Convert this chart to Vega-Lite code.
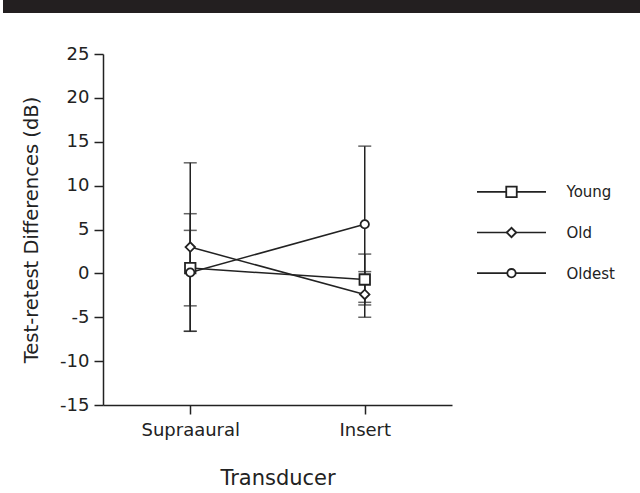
{
  "$schema": "https://vega.github.io/schema/vega-lite/v6.json",
  "padding": 0,
  "background": "white",
  "spacing": 32,
  "config": {
    "view": {"stroke": null},
    "font": "DejaVu Sans",
    "axis": {
      "grid": false,
      "domainColor": "#222",
      "tickColor": "#222",
      "labelColor": "#222",
      "titleColor": "#222",
      "domainWidth": 1.5,
      "tickWidth": 1.5,
      "titleFontWeight": "normal"
    }
  },
  "datasets": {
    "stats": [
      {"group": "Young", "transducer": "Supraaural", "mean": 0.6, "lo": -3.7, "hi": 4.9},
      {"group": "Young", "transducer": "Insert", "mean": -0.7, "lo": -3.6, "hi": 2.2},
      {"group": "Old", "transducer": "Supraaural", "mean": 3.0, "lo": -6.6, "hi": 12.6},
      {"group": "Old", "transducer": "Insert", "mean": -2.4, "lo": -5.0, "hi": 0.2},
      {"group": "Oldest", "transducer": "Supraaural", "mean": 0.1, "lo": -6.6, "hi": 6.8},
      {"group": "Oldest", "transducer": "Insert", "mean": 5.6, "lo": -3.3, "hi": 14.5}
    ],
    "groups": [
      {"group": "Young"},
      {"group": "Old"},
      {"group": "Oldest"}
    ]
  },
  "vconcat": [
    {
      "width": 640,
      "height": 13,
      "data": {"values": [{}]},
      "mark": {"type": "rect", "color": "#231f20"},
      "encoding": {}
    },
    {
      "spacing": 14,
      "hconcat": [
        {
          "width": 1,
          "height": 1,
          "data": {"values": [{}]},
          "mark": {"type": "point", "opacity": 0},
          "encoding": {}
        },
        {
          "spacing": 22,
          "hconcat": [
            {
              "width": 349,
              "height": 351,
              "data": {"name": "stats"},
              "encoding": {
                "x": {
                  "field": "transducer",
                  "type": "nominal",
                  "title": "Transducer",
                  "scale": {"type": "point", "domain": ["Supraaural", "Insert"], "padding": 0.5},
                  "axis": {
                    "labelAngle": 0,
                    "labelFontSize": 18,
                    "labelPadding": 7,
                    "tickSize": 9,
                    "titleFontSize": 21,
                    "titlePadding": 28
                  }
                }
              },
              "layer": [
                {
                  "mark": {"type": "rule", "color": "#222", "strokeWidth": 1.5},
                  "encoding": {
                    "y": {
                      "field": "lo",
                      "type": "quantitative",
                      "title": "Test-retest Differences (dB)",
                      "scale": {"domain": [-15, 25], "nice": false, "zero": false},
                      "axis": {
                        "values": [-15, -10, -5, 0, 5, 10, 15, 20, 25],
                        "labelExpr": "toString(datum.value)",
                        "labelFontSize": 18,
                        "labelPadding": 5,
                        "tickSize": 9,
                        "titleFontSize": 19.5,
                        "titlePadding": 18
                      }
                    },
                    "y2": {"field": "hi"}
                  }
                },
                {
                  "mark": {"type": "tick", "color": "#222", "size": 13, "thickness": 1.5},
                  "encoding": {"y": {"field": "lo", "type": "quantitative", "title": "Test-retest Differences (dB)"}}
                },
                {
                  "mark": {"type": "tick", "color": "#222", "size": 13, "thickness": 1.5},
                  "encoding": {"y": {"field": "hi", "type": "quantitative", "title": "Test-retest Differences (dB)"}}
                },
                {
                  "mark": {"type": "line", "color": "#222", "strokeWidth": 1.5},
                  "encoding": {
                    "y": {"field": "mean", "type": "quantitative", "title": "Test-retest Differences (dB)"},
                    "detail": {"field": "group", "type": "nominal"}
                  }
                },
                {
                  "mark": {"type": "point", "filled": false, "fill": "white", "fillOpacity": 1, "stroke": "#222", "strokeWidth": 1.8, "opacity": 1},
                  "encoding": {
                    "y": {"field": "mean", "type": "quantitative", "title": "Test-retest Differences (dB)"},
                    "shape": {
                      "field": "group",
                      "type": "nominal",
                      "scale": {"domain": ["Young", "Old", "Oldest"], "range": ["square", "diamond", "circle"]},
                      "legend": null
                    },
                    "size": {
                      "field": "group",
                      "type": "nominal",
                      "scale": {"domain": ["Young", "Old", "Oldest"], "range": [110, 70, 120]},
                      "legend": null
                    }
                  }
                }
              ]
            },
            {
              "spacing": 113.5,
              "vconcat": [
                {
                  "width": 1,
                  "height": 1,
                  "data": {"values": [{}]},
                  "mark": {"type": "point", "opacity": 0},
                  "encoding": {}
                },
                {
                  "width": 69,
                  "height": 122,
                  "data": {"name": "groups"},
                  "encoding": {
                    "y": {
                      "field": "group",
                      "type": "nominal",
                      "title": null,
                      "scale": {"type": "point", "domain": ["Young", "Old", "Oldest"], "padding": 0.5},
                      "axis": {
                        "orient": "right",
                        "domain": false,
                        "ticks": false,
                        "labelPadding": 20,
                        "labelFontSize": 15,
                        "labelColor": "#222"
                      }
                    }
                  },
                  "layer": [
                    {
                      "mark": {"type": "rule", "color": "#222", "strokeWidth": 1.6}
                    },
                    {
                      "mark": {"type": "point", "filled": false, "fill": "white", "fillOpacity": 1, "stroke": "#222", "strokeWidth": 1.8, "opacity": 1},
                      "encoding": {
                        "shape": {
                          "field": "group",
                          "type": "nominal",
                          "scale": {"domain": ["Young", "Old", "Oldest"], "range": ["square", "diamond", "circle"]},
                          "legend": null
                        },
                        "size": {
                          "field": "group",
                          "type": "nominal",
                          "scale": {"domain": ["Young", "Old", "Oldest"], "range": [90, 45, 95]},
                          "legend": null
                        }
                      }
                    }
                  ]
                }
              ]
            }
          ]
        }
      ]
    }
  ]
}
